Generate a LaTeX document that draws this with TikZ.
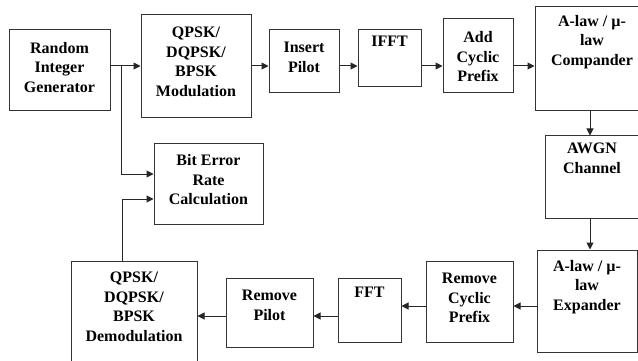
\documentclass[tikz,border=0pt]{standalone}
\usepackage{fontspec}
\setmainfont{Liberation Serif}
\usetikzlibrary{arrows.meta,calc}
\begin{document}
\begin{tikzpicture}[x=1pt,y=-1pt,
  box/.style={draw=black!80,line width=1pt,inner sep=0pt,fill=none},
  txt/.style={align=center,inner sep=0pt,font=\fontsize{16}{19.5}\selectfont\bfseries},
  arr/.style={draw=black!85,line width=1pt,-{Triangle[length=7pt,width=7pt]}},
  ln/.style={draw=black!85,line width=1pt}]
\useasboundingbox (0,0) rectangle (638,361);
\clip (0,0) rectangle (638,361);
\fill[white] (0,0) rectangle (638,361);
% boxes
\node[box,minimum width=101pt,minimum height=81pt] (rig) at (59.5,70.5) {};
\node[box,minimum width=110pt,minimum height=103pt] (mod) at (196,66.5) {};
\node[box,minimum width=70pt,minimum height=63pt] (ip) at (304,61.5) {};
\node[box,minimum width=63pt,minimum height=57pt] (ifft) at (389.5,58.5) {};
\node[box,minimum width=70pt,minimum height=74pt] (acp) at (478,56) {};
\node[box,minimum width=114pt,minimum height=104pt] (comp) at (592,59) {};
\node[box,minimum width=95pt,minimum height=82pt] (awgn) at (592.5,177) {};
\node[box,minimum width=100pt,minimum height=102pt] (exp) at (587,301) {};
\node[box,minimum width=87pt,minimum height=81pt] (rcp) at (469.5,301.5) {};
\node[box,minimum width=63pt,minimum height=64pt] (fft) at (369.5,310) {};
\node[box,minimum width=87pt,minimum height=69pt] (rp) at (269.5,312.5) {};
\node[box,minimum width=126pt,minimum height=109pt] (dem) at (134,315.5) {};
\node[box,minimum width=109pt,minimum height=81pt] (ber) at (208.5,183.5) {};
% texts
\node[txt] (trig) at (59.5,67.5) {Random\\Integer\\Generator};
\node[txt] (tmod) at (196,62) {QPSK/\\DQPSK/\\BPSK\\Modulation};
\node[txt] (tip) at (304,57.5) {Insert\\Pilot};
\node[txt,anchor=north] (tifft) at (389.5,36) {IFFT};
\node[txt] (tacp) at (478,57) {Add\\Cyclic\\Prefix};
\node[txt,anchor=north] (tcomp) at (592,15) {A-law / µ-\\law\\Compander};
\node[txt,anchor=north] (tawgn) at (592,143) {AWGN\\Channel};
\node[txt,anchor=north] (texp) at (587,260) {A-law / µ-\\law\\Expander};
\node[txt] (trcp) at (469.5,298) {Remove\\Cyclic\\Prefix};
\node[txt,anchor=north] (tfft) at (369.5,287) {FFT};
\node[txt] (trp) at (269.5,305.5) {Remove\\Pilot};
\node[txt,anchor=north] (tdem) at (134,272) {QPSK/\\DQPSK/\\BPSK\\Demodulation};
\node[txt] (tber) at (208.5,180) {Bit Error\\Rate\\Calculation};
% connectors
\coordinate (br) at (121,66);
\draw[arr] (rig.east |- br) -- (mod.west |- br);
\draw[ln] (br) -- (121,174);
\coordinate (bb) at (121,174);
\draw[arr] (bb) -- (ber.west |- bb);
\coordinate (r1) at (0,66);
\draw[arr] (mod.east |- r1) -- (ip.west |- r1);
\draw[arr] (ip.east |- r1) -- (ifft.west |- r1);
\draw[arr] (ifft.east |- r1) -- (acp.west |- r1);
\draw[arr] (acp.east |- r1) -- (comp.west |- r1);
\coordinate (c1) at (590,0);
\draw[arr] (comp.south -| c1) -- (awgn.north -| c1);
\draw[arr] (awgn.south -| c1) -- (exp.north -| c1);
\coordinate (r2) at (0,306);
\draw[arr] (exp.west |- r2) -- (rcp.east |- r2);
\draw[arr] (rcp.west |- r2) -- (fft.east |- r2);
\coordinate (r3) at (0,316);
\draw[arr] (fft.west |- r3) -- (rp.east |- r3);
\draw[arr] (rp.west |- r3) -- (dem.east |- r3);
\coordinate (c2) at (122,199);
\draw[ln] (dem.north -| c2) -- (c2);
\draw[arr] (c2) -- (ber.west |- c2);
\end{tikzpicture}
\end{document}
